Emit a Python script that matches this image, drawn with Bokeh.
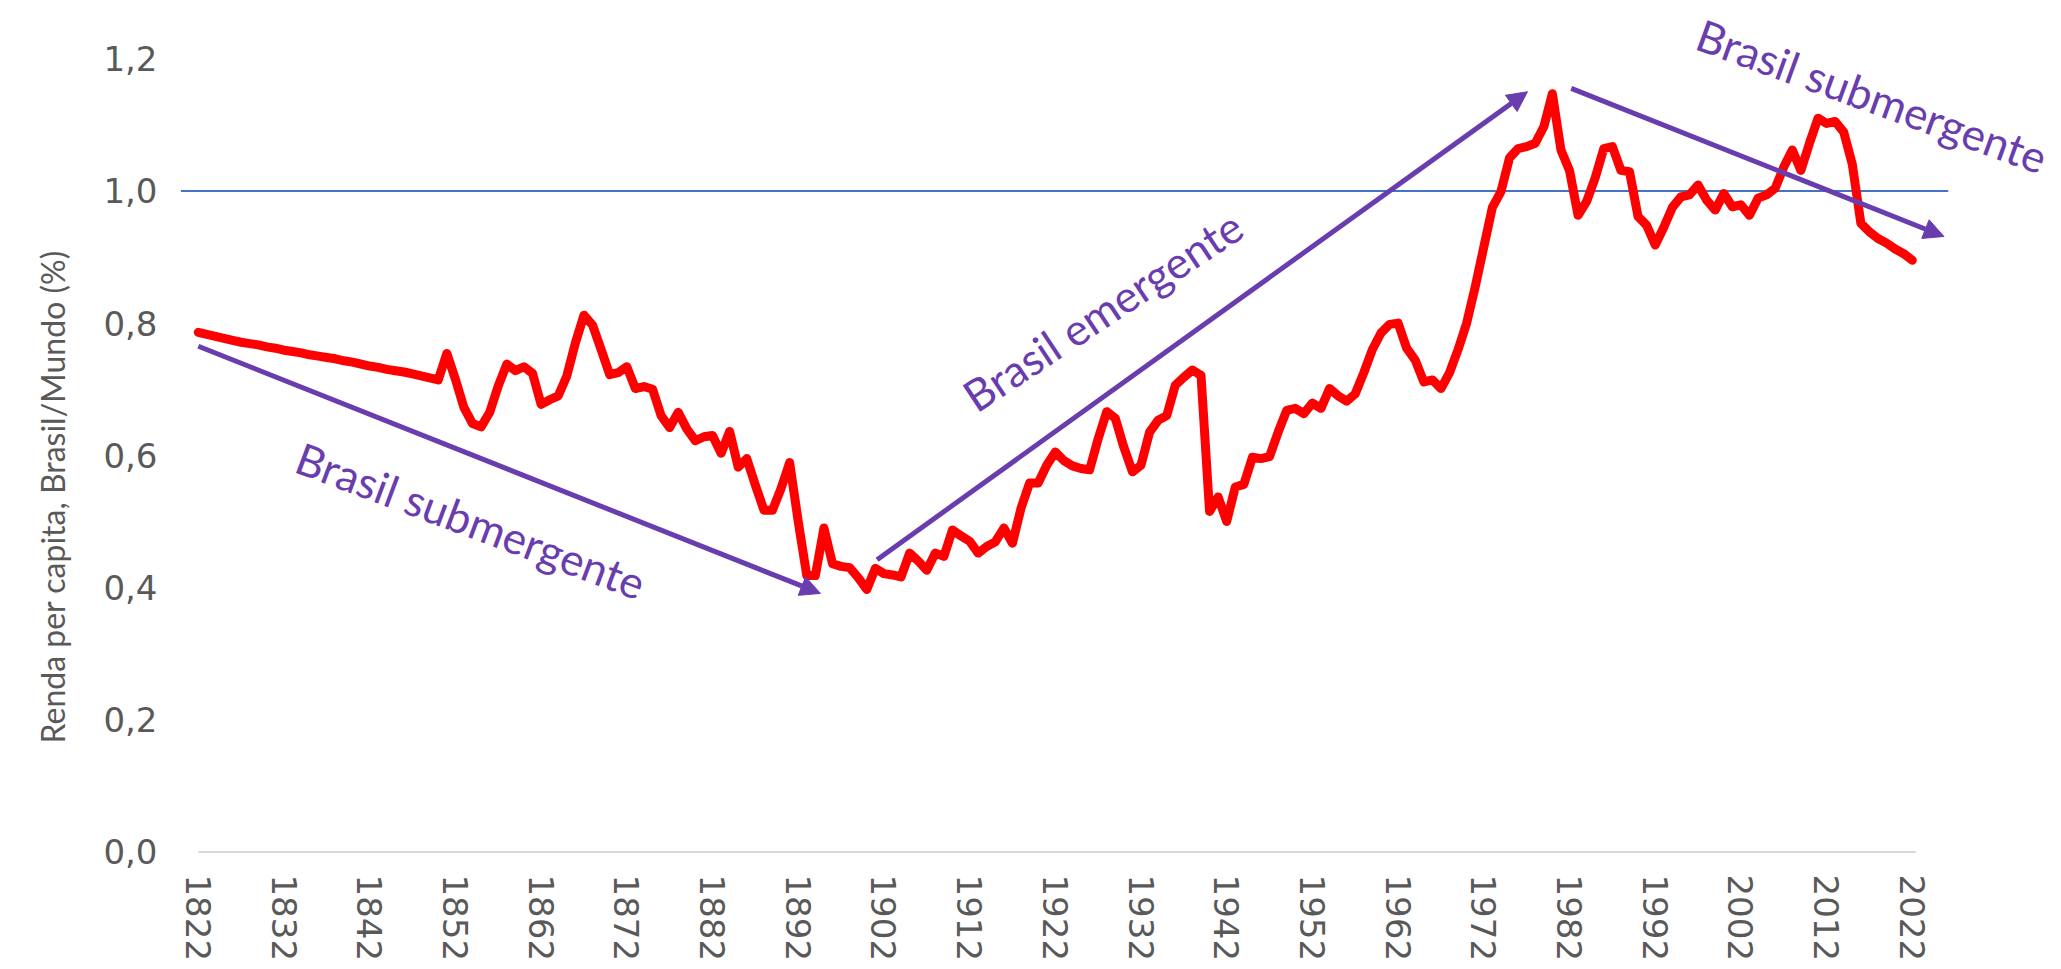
from bokeh.plotting import figure
from bokeh.models import Range1d, FixedTicker, Arrow, NormalHead, ColumnDataSource, Title
from bokeh.core.properties import value
from bokeh.embed import file_html
from bokeh.resources import INLINE

# ---------------- data ----------------
years = list(range(1822, 2023))
ratio = [
    0.786, 0.783, 0.780, 0.777, 0.774, 0.771, 0.769, 0.767, 0.764, 0.762,  # 1822-1831
    0.759, 0.757, 0.755, 0.752, 0.750, 0.748, 0.746, 0.743, 0.741, 0.738,  # 1832-1841
    0.735, 0.733, 0.730, 0.728, 0.726, 0.723, 0.720, 0.717, 0.714, 0.754,  # 1842-1851
    0.715, 0.672, 0.648, 0.643, 0.665, 0.705, 0.738, 0.728, 0.734, 0.724,  # 1852-1861
    0.677, 0.684, 0.690, 0.720, 0.770, 0.812, 0.797, 0.760, 0.722, 0.725,  # 1862-1871
    0.734, 0.701, 0.704, 0.700, 0.660, 0.642, 0.665, 0.640, 0.622, 0.628,  # 1872-1881
    0.630, 0.603, 0.636, 0.582, 0.595, 0.555, 0.517, 0.517, 0.550, 0.589,  # 1882-1891
    0.500, 0.418, 0.418, 0.490, 0.436, 0.432, 0.430, 0.415, 0.397, 0.429,  # 1892-1901
    0.421, 0.419, 0.416, 0.452, 0.440, 0.426, 0.452, 0.447, 0.487, 0.478,  # 1902-1911
    0.470, 0.452, 0.462, 0.469, 0.490, 0.467, 0.520, 0.558, 0.558, 0.585,  # 1912-1921
    0.605, 0.592, 0.584, 0.580, 0.578, 0.625, 0.666, 0.656, 0.612, 0.575,  # 1922-1931
    0.585, 0.635, 0.653, 0.660, 0.706, 0.718, 0.729, 0.721, 0.515, 0.537,  # 1932-1941
    0.500, 0.552, 0.556, 0.597, 0.595, 0.598, 0.635, 0.668, 0.671, 0.663,  # 1942-1951
    0.679, 0.671, 0.701, 0.690, 0.682, 0.693, 0.725, 0.760, 0.785, 0.798,  # 1952-1961
    0.800, 0.762, 0.744, 0.711, 0.714, 0.701, 0.725, 0.760, 0.800, 0.855,  # 1962-1971
    0.915, 0.975, 0.999, 1.050, 1.064, 1.067, 1.072, 1.097, 1.147, 1.062,  # 1972-1981
    1.031, 0.963, 0.984, 1.020, 1.064, 1.067, 1.031, 1.029, 0.961, 0.948,  # 1982-1991
    0.918, 0.945, 0.975, 0.991, 0.994, 1.009, 0.986, 0.971, 0.996, 0.976,  # 1992-2001
    0.979, 0.963, 0.989, 0.994, 1.004, 1.036, 1.062, 1.031, 1.072, 1.110,  # 2002-2011
    1.102, 1.105, 1.089, 1.040, 0.951, 0.938, 0.928, 0.921, 0.912, 0.905,  # 2012-2021
    0.895,                                                                 # 2022
]

x_ticks = list(range(1822, 2023, 10))
y_ticks = [0.0, 0.2, 0.4, 0.6, 0.8, 1.0, 1.2]
y_tick_labels = {0.0: "0,0", 0.2: "0,2", 0.4: "0,4", 0.6: "0,6", 0.8: "0,8", 1.0: "1,0", 1.2: "1,2"}

y_title = "Renda per capita, Brasil/Mundo (%)"

# reference line at parity (Brasil = Mundo)
parity_x = [1819.95, 2026.2]
parity_y = [1.0, 1.0]

# trend arrows: (x_start, y_start, x_end, y_end)
arrow_x0 = [1822.0, 1901.2, 1982.2]
arrow_y0 = [0.765, 0.442, 1.155]
arrow_x1 = [1894.6, 1977.1, 2025.7]
arrow_y1 = [0.391, 1.150, 0.931]

# annotations
note_text = ["Brasil submergente", "Brasil emergente", "Brasil submergente"]
note_x = [1853.8, 1927.5, 2017.3]
note_y = [0.502, 0.819, 1.144]
note_angle = [-20.5, 33.5, -20.0]

# ---------------- figure ----------------
GREY = "#595959"
PURPLE = "#6A3DAF"

p = figure(
    frame_width=1878, frame_height=856,
    x_range=Range1d(1819.92, 2039.06), y_range=Range1d(-0.01, 1.285),
    output_backend="svg", toolbar_location=None,
    min_border_left=180, min_border_top=2, min_border_right=0, min_border_bottom=5,
)
p.outline_line_color = None
p.xgrid.visible = False
p.ygrid.visible = False
p.background_fill_color = "white"

# axes
p.xaxis.ticker = FixedTicker(ticks=x_ticks)
p.xaxis.major_label_orientation = "vertical"
p.xaxis.axis_line_color = None
p.xaxis.major_tick_line_color = None
p.xaxis.minor_tick_line_color = None
p.xaxis.major_label_standoff = 10
p.xaxis.major_label_text_font = "DejaVu Sans"
p.xaxis.major_label_text_font_size = "34px"
p.xaxis.major_label_text_color = GREY

p.yaxis.ticker = FixedTicker(ticks=y_ticks)
p.yaxis.major_label_overrides = y_tick_labels
p.yaxis.axis_line_color = None
p.yaxis.major_tick_line_color = None
p.yaxis.minor_tick_line_color = None
p.yaxis.major_label_standoff = 17
p.yaxis.major_label_text_font = "DejaVu Sans"
p.yaxis.major_label_text_font_size = "34px"
p.yaxis.major_label_text_color = GREY

# y-axis title, set a little below the middle as in the original
p.add_layout(Title(text=y_title, align="left", offset=115, standoff=58,
                   text_font="Lato", text_font_size="32px", text_font_style="normal",
                   text_color=GREY), "left")

# horizontal category axis line
p.segment(x0=[years[0]], y0=[0.0], x1=[years[-1] + 0.4], y1=[0.0], line_color="#D9D9D9", line_width=2)

# parity line
p.line(parity_x, parity_y, line_color="#4472C4", line_width=2)

# main series
src = ColumnDataSource(dict(year=years, ratio=ratio))
p.line("year", "ratio", source=src, line_color="#FF0000", line_width=9, line_join="round", line_cap="round")

# arrows
for xs, ys, xe, ye in zip(arrow_x0, arrow_y0, arrow_x1, arrow_y1):
    p.add_layout(Arrow(
        end=NormalHead(size=20, fill_color=PURPLE, line_color=PURPLE, line_width=1),
        x_start=xs, y_start=ys, x_end=xe, y_end=ye,
        line_color=PURPLE, line_width=5,
    ))

# annotation texts
nsrc = ColumnDataSource(dict(x=note_x, y=note_y, t=note_text, a=note_angle))
p.text(x="x", y="y", text="t", angle="a", angle_units="deg", source=nsrc,
       text_font=value("Lato"), text_font_size="44px", text_color=PURPLE,
       text_align="center", text_baseline="middle")

open("out.html", "w").write(file_html(p, INLINE))
